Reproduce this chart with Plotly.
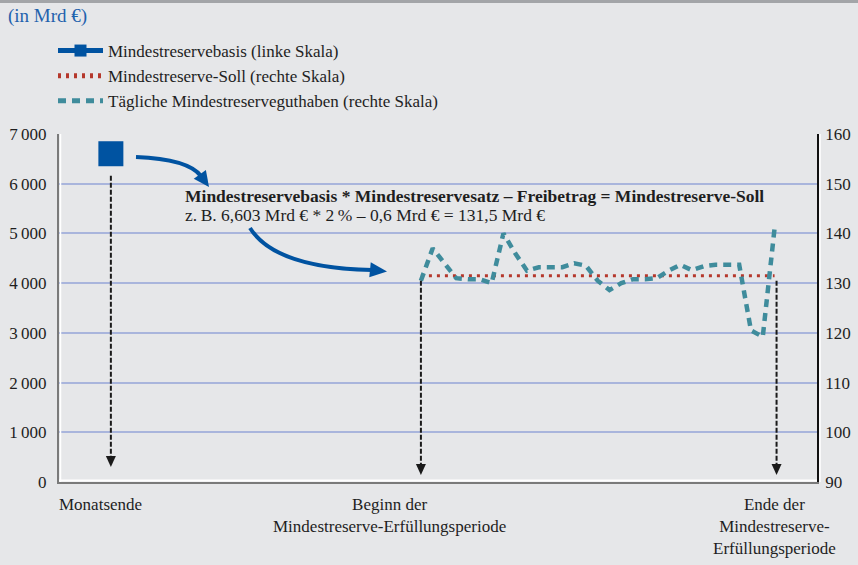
import plotly.graph_objects as go

# ---------------- data ----------------
basis_x = [-26.3]          # Monatsende (day offset relative to start of maintenance period)
basis_y = [6603]           # Mindestreservebasis, Mrd €
soll_x = [0, 30]
soll_y = [131.5, 131.5]    # Mindestreserve-Soll, Mrd €
days = list(range(0, 31))
daily = [130.5, 137.0, 134.0, 131.0, 130.8, 130.8, 130.0, 140.0, 136.0, 132.5,
         133.2, 133.2, 133.2, 134.0, 133.5, 130.5, 128.6, 130.0, 130.8, 130.8,
         131.0, 132.5, 133.7, 132.6, 133.4, 133.7, 133.8, 133.7, 120.5, 119.2, 141.0]
event_x = [-26.3, 0, 30]
event_labels = ["Monatsende",
                "Beginn der<br>Mindestreserve-Erfüllungsperiode",
                "Ende der<br>Mindestreserve-<br>Erfüllungsperiode"]
left_ticks = [0, 1000, 2000, 3000, 4000, 5000, 6000, 7000]
left_ticktext = ["0", "1\u2009000", "2\u2009000", "3\u2009000", "4\u2009000",
                 "5\u2009000", "6\u2009000", "7\u2009000"]
right_ticks = [90, 100, 110, 120, 130, 140, 150, 160]

# ---------------- layout constants ----------------
W, H = 858, 565
L, R, T, B = 59, 817, 134, 482
XR = [-30.7, 33.6]
YL = [0, 7000]
YR = [90, 160]
FONT = "Liberation Serif, Times New Roman, serif"
BG = "#e6e7e9"
BLUE = "#0053a1"
TEAL = "#3f8c9c"
RED = "#b5382c"
GRID = "#a9b5dc"
TXT = "#1e1e1e"


def ppx(px, py):
    return (px - L) / (R - L), (B - py) / (B - T)


def x2px(x):
    return L + (x - XR[0]) / (XR[1] - XR[0]) * (R - L)


def y2px(y, rng):
    return B - (y - rng[0]) / (rng[1] - rng[0]) * (B - T)


def path_paper(points, close=False):
    s = ""
    for i, (px, py) in enumerate(points):
        a, b = ppx(px, py)
        s += ("M" if i == 0 else "L") + f"{a:.5f},{b:.5f} "
    if close:
        s += "Z"
    return s


fig = go.Figure()

fig.add_trace(go.Scatter(
    x=basis_x, y=basis_y, mode="lines+markers",
    name="Mindestreservebasis (linke Skala)",
    marker=dict(symbol="square", size=25, color=BLUE),
    line=dict(color=BLUE, width=3), yaxis="y"))
fig.add_trace(go.Scatter(
    x=soll_x, y=soll_y, mode="lines",
    name="Mindestreserve-Soll (rechte Skala)",
    line=dict(color=RED, width=3, dash="3px,5px"), yaxis="y2"))
fig.add_trace(go.Scatter(
    x=days, y=daily, mode="lines",
    name="Tägliche Mindestreserveguthaben (rechte Skala)",
    line=dict(color=TEAL, width=4.5, dash="8px,6px"), yaxis="y2"))

shapes = []
annotations = []

# top border
shapes.append(dict(type="line", xref="paper", yref="paper",
                   x0=ppx(0, 1.5)[0], x1=ppx(W, 1.5)[0],
                   y0=ppx(0, 1.5)[1], y1=ppx(0, 1.5)[1],
                   line=dict(color="#a3a5a8", width=3)))
# white emboss lines next to axes
shapes.append(dict(type="line", xref="paper", yref="paper",
                   x0=0, x1=1, y0=ppx(0, 480.5)[1], y1=ppx(0, 480.5)[1],
                   line=dict(color="white", width=2)))
shapes.append(dict(type="line", xref="paper", yref="paper",
                   x0=ppx(60.5, 0)[0], x1=ppx(60.5, 0)[0], y0=0, y1=1,
                   line=dict(color="white", width=1.5)))
shapes.append(dict(type="line", xref="paper", yref="paper",
                   x0=ppx(820, 0)[0], x1=ppx(820, 0)[0], y0=0, y1=1,
                   line=dict(color="white", width=1.5)))

# vertical dashed black arrows
arrow_specs = [
    (x2px(event_x[0]), y2px(basis_y[0], YL) + 22, y2px(300, YL)),
    (x2px(event_x[1]), y2px(130.5, YR), y2px(91.4, YR)),
    (x2px(event_x[2]) + 2, y2px(130.5, YR), y2px(91.4, YR)),
]
for xp, ytop, ytip in arrow_specs:
    shapes.append(dict(type="path", xref="paper", yref="paper",
                       path=path_paper([(xp, ytop), (xp, ytip - 9)]),
                       line=dict(color="#1a1a1a", width=2, dash="5px,2px")))
    shapes.append(dict(type="path", xref="paper", yref="paper",
                       path=path_paper([(xp - 5, ytip - 11), (xp + 5, ytip - 11), (xp, ytip)], close=True),
                       fillcolor="#1a1a1a", line=dict(width=0)))


# curved blue arrows
def curved_arrow(p0, c, p1, tip, hw=7.5):
    a0, b0 = ppx(*p0)
    ac, bc = ppx(*c)
    a1, b1 = ppx(*p1)
    shapes.append(dict(type="path", xref="paper", yref="paper",
                       path=f"M{a0:.5f},{b0:.5f} Q{ac:.5f},{bc:.5f} {a1:.5f},{b1:.5f}",
                       line=dict(color=BLUE, width=4)))
    dx, dy = tip[0] - p1[0], tip[1] - p1[1]
    n = (dx * dx + dy * dy) ** 0.5
    ux, uy = dx / n, dy / n
    bx, by = p1[0] - ux * 2, p1[1] - uy * 2
    pts = [(bx - uy * hw, by + ux * hw), (bx + uy * hw, by - ux * hw), tip]
    shapes.append(dict(type="path", xref="paper", yref="paper",
                       path=path_paper(pts, close=True),
                       fillcolor=BLUE, line=dict(width=0)))


curved_arrow((136, 157), (188, 159), (201, 176), (209, 187))
curved_arrow((250, 228), (275, 268), (372, 270), (387, 271.5))

# formula text
annotations.append(dict(
    text="<b>Mindestreservebasis * Mindestreservesatz \u2013 Freibetrag = Mindestreserve-Soll</b>",
    xref="paper", yref="paper", x=ppx(183, 0)[0], y=ppx(0, 195.5)[1],
    xanchor="left", yanchor="middle", showarrow=False,
    font=dict(family=FONT, size=17.5, color=TXT)))
annotations.append(dict(
    text="z.\u2009B. 6,603 Mrd \u20ac * 2\u2009% \u2013 0,6 Mrd \u20ac = 131,5 Mrd \u20ac",
    xref="paper", yref="paper", x=ppx(183, 0)[0], y=ppx(0, 214.5)[1],
    xanchor="left", yanchor="middle", showarrow=False,
    font=dict(family=FONT, size=17.5, color=TXT)))

# title
annotations.append(dict(
    text="(in Mrd \u20ac)", xref="paper", yref="paper",
    x=ppx(6, 0)[0], y=ppx(0, 16)[1], xanchor="left", yanchor="middle",
    showarrow=False, font=dict(family=FONT, size=19, color="#1f62ad")))

# event labels under x axis
shifts = [-10, -31, 0]
for xv, lab, sh in zip(event_x, event_labels, shifts):
    annotations.append(dict(
        text=lab, xref="x", yref="paper", x=xv, xshift=sh,
        y=ppx(0, 493)[1], xanchor="center", yanchor="top", align="center",
        showarrow=False, font=dict(family=FONT, size=17, color=TXT)))

fig.update_layout(
    width=W, height=H, autosize=False,
    margin=dict(l=L, r=W - R, t=T, b=H - B, pad=0, autoexpand=False),
    paper_bgcolor=BG, plot_bgcolor=BG,
    font=dict(family=FONT, size=17, color=TXT),
    showlegend=True,
    legend=dict(x=ppx(53, 0)[0], y=ppx(0, 33)[1], xanchor="left", yanchor="top",
                bgcolor="rgba(0,0,0,0)", traceorder="normal", tracegroupgap=0,
                itemsizing="constant", itemwidth=45,
                font=dict(family=FONT, size=17, color=TXT)),
    xaxis=dict(range=XR, showgrid=False, zeroline=False, showticklabels=False,
               ticks="", showline=True, linecolor="#7a7a7a", linewidth=2, fixedrange=True),
    yaxis=dict(range=YL, tickvals=left_ticks, ticktext=left_ticktext,
               showgrid=True, gridcolor=GRID, gridwidth=1.5, zeroline=False,
               showline=True, linecolor="#7a7a7a", linewidth=2, ticks="",
               ticklabelstandoff=7, tickfont=dict(family=FONT, size=17, color=TXT)),
    yaxis2=dict(range=YR, tickvals=right_ticks, overlaying="y", side="right",
                showgrid=False, zeroline=False, showline=True, linecolor="#111111",
                linewidth=1.5, ticks="", ticklabelstandoff=3,
                tickfont=dict(family=FONT, size=17, color=TXT)),
    shapes=shapes, annotations=annotations,
)

fig.write_html("out.html", config={"displayModeBar": False},
               post_script="document.body.style.margin='0';document.body.style.overflow='hidden';")
